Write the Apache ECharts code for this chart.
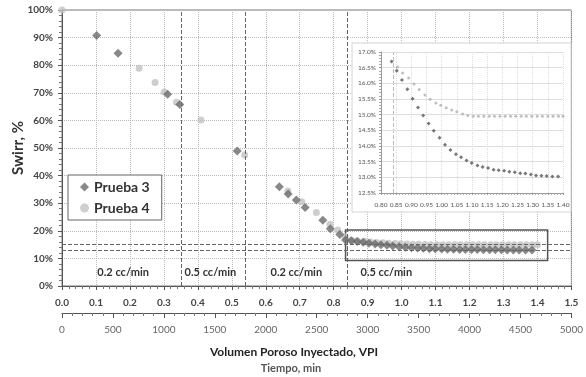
<!DOCTYPE html>
<html>
<head>
<meta charset="utf-8">
<script src="https://cdn.jsdelivr.net/npm/echarts@6/dist/echarts.min.js"></script>
<style>
  html, body { margin: 0; padding: 0; background: #fff; }
  #chart { width: 586px; height: 377px; }
</style>
</head>
<body>
<div id="chart"></div>
<script>
// Prueba 3 (rombos oscuros)
var p3X = [0.102, 0.165, 0.311, 0.347, 0.516, 0.640, 0.666, 0.690, 0.716, 0.768, 0.790, 0.818,
  0.835, 0.852, 0.869, 0.887, 0.904, 0.922, 0.939, 0.957, 0.974, 0.993, 1.011, 1.029, 1.047, 1.064,
  1.082, 1.099, 1.118, 1.135, 1.153, 1.171, 1.188, 1.206, 1.223, 1.241, 1.259, 1.276, 1.294, 1.311,
  1.329, 1.346, 1.365, 1.384]
var p3Y = [90.8, 84.3, 69.5, 65.8, 48.9, 36.0, 33.3, 31.2, 28.4, 23.8, 20.7, 18.7,
  16.70, 16.40, 16.11, 15.81, 15.51, 15.23, 14.97, 14.72, 14.49, 14.26, 14.04, 13.87, 13.74, 13.64,
  13.54, 13.46, 13.38, 13.33, 13.30, 13.24, 13.23, 13.21, 13.18, 13.16, 13.13, 13.12, 13.09, 13.06,
  13.05, 13.04, 13.03, 13.03]

// Prueba 4 (circulos claros)
var p4X = [0.000, 0.227, 0.274, 0.301, 0.337, 0.409, 0.538, 0.665, 0.706, 0.749, 0.789, 0.812, 0.834,
  0.854, 0.871, 0.891, 0.909, 0.926, 0.945, 0.962, 0.981, 0.997, 1.015, 1.033, 1.050, 1.069, 1.086,
  1.104, 1.121, 1.139, 1.157, 1.174, 1.192, 1.209, 1.227, 1.244, 1.262, 1.279, 1.297, 1.315, 1.332,
  1.350, 1.367, 1.385, 1.400]
var p4Y = [100, 78.9, 73.7, 70.3, 66.6, 60.1, 47.5, 34.4, 30.5, 26.6, 22.4, 20.3, 17.8,
  16.52, 16.33, 16.17, 15.98, 15.80, 15.63, 15.49, 15.37, 15.30, 15.22, 15.15, 15.09, 15.02, 14.97,
  14.95, 14.95, 14.95, 14.95, 14.95, 14.95, 14.95, 14.95, 14.95, 14.95, 14.95, 14.95, 14.95, 14.95,
  14.95, 14.95, 14.95, 14.95]

// cambios de caudal y lineas de referencia
var rateChangesVPI = [0.349, 0.538, 0.839]
var refLevels = [15, 13]
var rateLabels = ['0.2 cc/min', '0.5 cc/min', '0.2 cc/min', '0.5 cc/min']
var rateLabelX = [0.18, 0.437, 0.69, 0.955]
// recuadro del zoom
var zoomBox = [[0.835, 20.3], [1.43, 9.2]]

function pairs(xs, ys) {
  return xs.map(function (x, i) { return [x, ys[i]] })
}

var dark = '#6a6a6a'
var light = '#c2c2c2'
var font = 'Lato, "Noto Sans", sans-serif'

var chart = echarts.init(document.getElementById('chart'))

var option = {
  animation: false,
  textStyle: { fontFamily: font },
  legend: {
    orient: 'vertical',
    left: 68, top: 175,
    padding: [5, 12, 5, 12],
    itemGap: 7,
    itemWidth: 9, itemHeight: 9,
    borderColor: '#666', borderWidth: 1,
    backgroundColor: '#fff',
    textStyle: { fontSize: 14, fontWeight: 'bold', color: '#333', fontFamily: font },
    data: ['Prueba 3', 'Prueba 4']
  },
  grid: [
    { left: 62, right: 9, top: 10, bottom: 91, show: true, borderColor: '#777', borderWidth: 1 },
    { left: 381, right: 23, top: 52, bottom: 184, z: 6 }
  ],
  xAxis: [
    {
      gridIndex: 0, type: 'value', min: 0, max: 1.5, interval: 0.1,
      axisLine: { onZero: false, lineStyle: { color: '#555' } },
      axisTick: { inside: false, length: 4, lineStyle: { color: '#555' } },
      minorTick: { show: true, splitNumber: 5, length: 3, lineStyle: { color: '#777' } },
      axisLabel: { margin: 12, fontSize: 10, fontWeight: 'bold', color: '#444',
        formatter: function (v) { return v.toFixed(1) } },
      splitLine: { show: true, lineStyle: { color: '#bbb', type: 'dotted' } }
    },
    {
      // eje secundario de tiempo
      gridIndex: 0, type: 'value', min: 0, max: 5000, interval: 500, position: 'bottom', offset: 27,
      axisLine: { onZero: false, lineStyle: { color: '#555' } },
      axisTick: { length: 5, lineStyle: { color: '#555' } },
      minorTick: { show: true, splitNumber: 5, length: 3, lineStyle: { color: '#777' } },
      axisLabel: { margin: 12, fontSize: 10, color: '#666',
        formatter: function (v) { return String(v) } },
      splitLine: { show: false }
    },
    {
      gridIndex: 1, type: 'value', min: 0.8, max: 1.4, interval: 0.05, z: 6,
      axisLine: { onZero: false, lineStyle: { color: '#999' } },
      axisTick: { length: 2, lineStyle: { color: '#999' } },
      minorTick: { show: true, splitNumber: 5, length: 2, lineStyle: { color: '#aaa' } },
      axisLabel: { margin: 8, fontSize: 6.5, color: '#555',
        formatter: function (v) { return v.toFixed(2) } },
      splitLine: { show: true, lineStyle: { color: '#ddd', type: 'dotted' } }
    }
  ],
  yAxis: [
    {
      gridIndex: 0, type: 'value', min: 0, max: 100, interval: 10,
      axisLine: { show: true, onZero: false, lineStyle: { color: '#555' } },
      axisTick: { show: true, length: 4, lineStyle: { color: '#555' } },
      minorTick: { show: true, splitNumber: 5, length: 3, lineStyle: { color: '#777' } },
      axisLabel: { margin: 9, fontSize: 10, fontWeight: 'bold', color: '#444', formatter: '{value}%' },
      splitLine: { show: true, lineStyle: { color: '#bbb', type: 'dotted' } }
    },
    {
      gridIndex: 1, type: 'value', min: 12.5, max: 17, interval: 0.5, z: 6,
      axisLine: { show: true, onZero: false, lineStyle: { color: '#999' } },
      axisTick: { show: true, length: 2, lineStyle: { color: '#999' } },
      minorTick: { show: true, splitNumber: 5, length: 2, lineStyle: { color: '#aaa' } },
      axisLabel: { margin: 5, fontSize: 6.5, color: '#555',
        formatter: function (v) { return v.toFixed(1) + '%' } },
      splitLine: { show: true, lineStyle: { color: '#ddd' } }
    }
  ],
  graphic: [
    // fondo del grafico insertado
    { type: 'rect', z: 5, shape: { x: 352, y: 43, width: 219, height: 169 },
      style: { fill: '#fff', stroke: '#d4d4d4', lineWidth: 1 } },
    { type: 'text', x: 18, y: 148, rotation: Math.PI / 2,
      style: { text: 'Swirr, %', fontSize: 15, fontWeight: 'bold', fill: '#333', fontFamily: font,
        align: 'center', verticalAlign: 'middle' } },
    { type: 'text', x: 294, y: 352,
      style: { text: 'Volumen Poroso Inyectado, VPI', fontSize: 12, fontWeight: 'bold', fill: '#222',
        fontFamily: font, align: 'center', verticalAlign: 'middle' } },
    { type: 'text', x: 291, y: 368,
      style: { text: 'Tiempo, min', fontSize: 11, fontWeight: 'bold', fill: '#555',
        fontFamily: font, align: 'center', verticalAlign: 'middle' } }
  ],
  series: [
    {
      // lineas de referencia, recuadro y textos de caudal
      type: 'scatter', xAxisIndex: 0, yAxisIndex: 0, data: [], z: 1,
      silent: true,
      markLine: {
        symbol: 'none', silent: true, label: { show: false },
        lineStyle: { color: '#666', type: 'dashed', width: 1 },
        data: rateChangesVPI.map(function (v) { return { xAxis: v } })
          .concat(refLevels.map(function (v) { return { yAxis: v } }))
      },
      markArea: {
        silent: true,
        itemStyle: { color: 'rgba(0,0,0,0)', borderColor: '#555', borderWidth: 1.5 },
        data: [[{ coord: zoomBox[0] }, { coord: zoomBox[1] }]]
      },
      markPoint: {
        symbol: 'circle', symbolSize: 0, silent: true,
        label: { show: true, fontSize: 11, fontWeight: 'bold', color: '#333', fontFamily: font,
          formatter: function (p) { return p.name } },
        data: rateLabels.map(function (t, i) { return { name: t, coord: [rateLabelX[i], 5] } })
      }
    },
    {
      name: 'Prueba 4', type: 'scatter', xAxisIndex: 0, yAxisIndex: 0, z: 2,
      symbol: 'circle', symbolSize: 7,
      itemStyle: { color: light },
      data: pairs(p4X, p4Y)
    },
    {
      name: 'Prueba 3', type: 'scatter', xAxisIndex: 0, yAxisIndex: 0, z: 3,
      symbol: 'diamond', symbolSize: 9,
      itemStyle: { color: dark },
      data: pairs(p3X, p3Y)
    },
    {
      // grafico insertado
      type: 'scatter', xAxisIndex: 2, yAxisIndex: 1, z: 7, clip: true,
      symbol: 'circle', symbolSize: 3,
      itemStyle: { color: '#b0b0b0' },
      data: pairs(p4X, p4Y),
      markLine: {
        symbol: 'none', silent: true, label: { show: false },
        lineStyle: { color: '#bbb', type: 'dashed', width: 1 },
        data: [{ xAxis: rateChangesVPI[2] }]
      }
    },
    {
      type: 'scatter', xAxisIndex: 2, yAxisIndex: 1, z: 8, clip: true,
      symbol: 'diamond', symbolSize: 4,
      itemStyle: { color: '#555' },
      data: pairs(p3X, p3Y)
    }
  ]
}

chart.setOption(option)
</script>
</body>
</html>
